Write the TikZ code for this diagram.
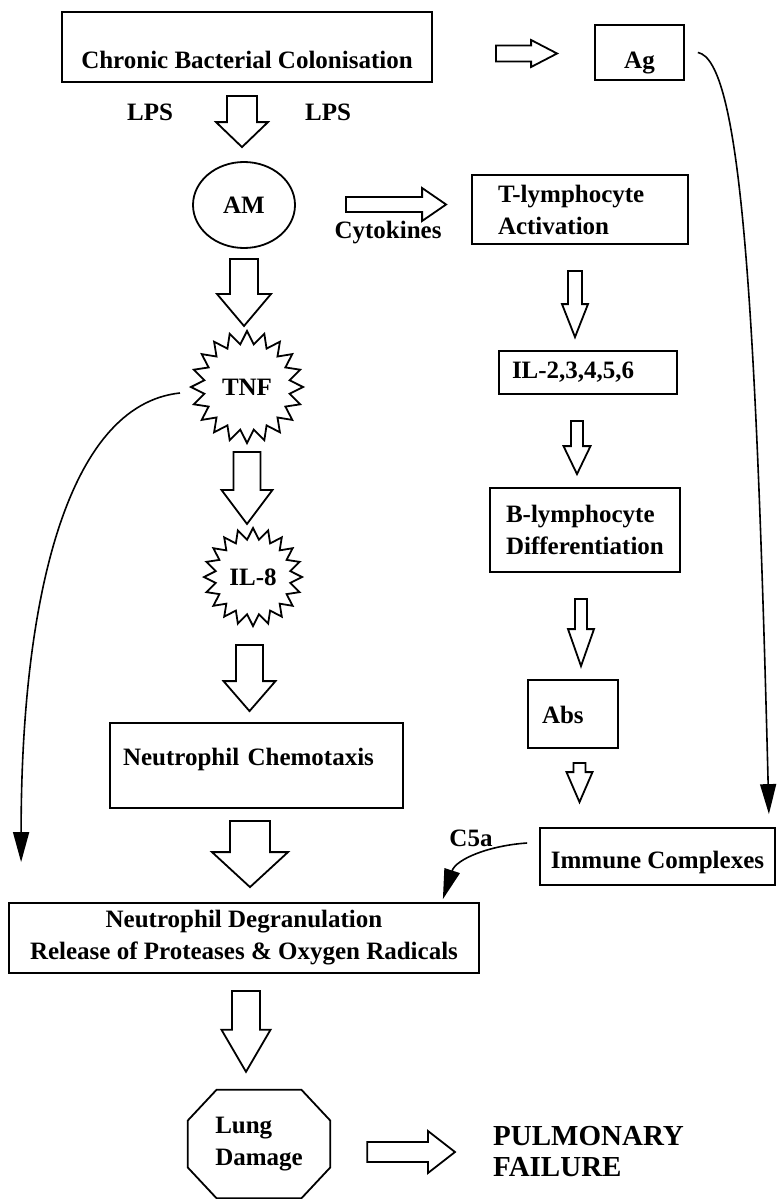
\documentclass[tikz,border=0pt]{standalone}
\usepackage{fontspec}
\setmainfont{Liberation Serif}
\usepackage{tikz}
\usetikzlibrary{arrows.meta,calc,shapes.geometric}
\newcommand{\lblfont}{\fontsize{25}{32}\selectfont\bfseries}
\newcommand{\fatdown}[5]{\draw[fatarr] let \p1=(#1),\p2=(#2) in (\x2-#3,\y1)--(\x2+#3,\y1)--(\x2+#3,\y2+#5)--(\x2+#4,\y2+#5)--(\x2,\y2)--(\x2-#4,\y2+#5)--(\x2-#3,\y2+#5)--cycle;}
\newcommand{\fatright}[5]{\draw[fatarr] let \p1=(#1),\p2=(#2) in (\x1,\y2+#3)--(\x2-#5,\y2+#3)--(\x2-#5,\y2+#4)--(\x2,\y2)--(\x2-#5,\y2-#4)--(\x2-#5,\y2-#3)--(\x1,\y2-#3)--cycle;}

\begin{document}
\begin{tikzpicture}[x=1pt,y=-1pt,font=\lblfont,
  box/.style={draw,line width=1.8pt,inner sep=0pt},
  fatarr/.style={draw,line width=1.8pt,fill=white,line join=miter},
  thinarr/.style={line width=1.6pt,-{Triangle[length=30pt,width=16pt]}},
  spiky/.style={draw,line width=1.8pt,star,star points=20,star point ratio=1.3,inner sep=0pt}]
\useasboundingbox (0,0) rectangle (778,1199);
\node[box,minimum width=370pt,text height=56pt,text depth=14pt] (chronic) at (247,47) {Chronic Bacterial Colonisation};
\node[box,minimum width=89pt,text height=43pt,text depth=12pt] (ag) at (639.5,52.5) {Ag};
\node (lpsl) at (150,112) {LPS};
\node (lpsr) at (328,112) {LPS};
\node[draw,ellipse,line width=1.8pt,minimum width=102pt,minimum height=86pt,inner sep=0pt] (am) at (244,205) {AM};
\node (cyto) at (388,233) {Cytokines};
\node[box,inner xsep=26pt,text width=164pt,minimum height=69pt,align=left] (tcell) at (580,209.5) {T-lymphocyte\\Activation};
\node[box,inner xsep=13pt,text width=152pt,text height=27pt,text depth=16pt,align=left] (ilmix) at (588,372.5) {IL-2,3,4,5,6};
\node[box,inner xsep=16pt,text width=158pt,minimum height=84pt,align=left] (bcell) at (585,530) {B-lymphocyte\\Differentiation};
\node[box,inner xsep=14pt,text width=62pt,text height=43pt,text depth=25pt,align=left] (abs) at (573,714) {Abs};
\node[box,minimum width=235pt,text height=40pt,text depth=17pt] (immune) at (657.5,856.5) {Immune Complexes};
\node[spiky,minimum size=112pt] (tnf) at (247,387) {TNF};
\node[spiky,minimum size=98pt] (il8) at (253,577) {IL-8};
\node[box,inner xsep=13pt,text width=267pt,text height=42pt,text depth=43pt,align=left] (chemo) at (256.5,765.5) {Neutrophil Chemotaxis};
\node[box,minimum width=470pt,minimum height=70pt,align=center] (degran) at (244,938) {Neutrophil Degranulation\\Release of Proteases \& Oxygen Radicals};
\node (cfive) at (471,838) {C5a};
\node[minimum width=142pt,minimum height=108pt,align=left,inner sep=0pt] (lung) at (259,1144) {Lung\\Damage};
\draw[line width=1.8pt] ($(lung.north)+(-42.5,0)$) -- ($(lung.north)+(42.5,0)$) -- ($(lung.east)+(0,-23.5)$) -- ($(lung.east)+(0,23.5)$) -- ($(lung.south)+(42.5,0)$) -- ($(lung.south)+(-42.5,0)$) -- ($(lung.west)+(0,23.5)$) -- ($(lung.west)+(0,-23.5)$) -- cycle;
\node[anchor=west,inner sep=0pt,align=left,font=\fontsize{29}{31}\selectfont\bfseries] (fail) at (493,1152) {PULMONARY\\FAILURE};

\fatdown{$(chronic.south)+(0,13)$}{$(am.north)+(-2,-14)$}{15}{26}{25}
\fatright{$(chronic.east)+(63,0)$}{$(ag.west)+(-37,1)$}{8}{13.5}{26}
\fatright{$(am.east)+(50,0)$}{$(tcell.west)+(-25,-5)$}{7.5}{16.5}{24}
\fatdown{$(am.south)+(0,10)$}{$(tnf.north)+(-3,-3)$}{14}{27}{32}
\fatdown{$(tnf.south)+(0,7)$}{$(il8.north)+(-6,-2)$}{13.5}{25.5}{34}
\fatdown{$(il8.south)+(0,17)$}{$(chemo.north)+(-7,-11)$}{13.5}{26}{30}
\fatdown{$(chemo.south)+(0,12)$}{$(degran.north)+(6,-15)$}{20}{38}{35}
\fatdown{$(degran.south)+(0,17)$}{$(lung.north)+(-13,-18)$}{14}{24.5}{42}
\fatright{$(lung.east)+(37,8)$}{$(fail.west)+(-38,0)$}{10}{21}{27}
\fatdown{$(tcell.south)+(0,26)$}{$(ilmix.north)+(-13,-13)$}{7}{13}{33}
\fatdown{$(ilmix.south)+(0,26)$}{$(bcell.north)+(-8,-13)$}{6}{13.5}{28}
\fatdown{$(bcell.south)+(0,26)$}{$(abs.north)+(8,-13)$}{6}{13}{37}
\fatdown{$(abs.south)+(0,14)$}{$(immune.north)+(-78,-25)$}{6}{13}{30}

\draw[thinarr] ($(ag.east)+(13,0)$) .. controls ($(ag.east)+(56,8)$) and ($(ag.east)+(71,248)$) .. ($(immune.north east)+(-7,-13)$);
\draw[thinarr] ($(tnf.west)+(-9,6)$) .. controls ($(tnf.west)+(-122,18)$) and ($(degran.north west)+(13,-303)$) .. ($(degran.north west)+(13,-40)$);
\draw[thinarr] ($(immune.west)+(-12,-13.5)$) .. controls ($(immune.west)+(-50,-11)$) and ($(degran.north east)+(-24,-43)$) .. ($(degran.north east)+(-37,-3)$);
\end{tikzpicture}
\end{document}
